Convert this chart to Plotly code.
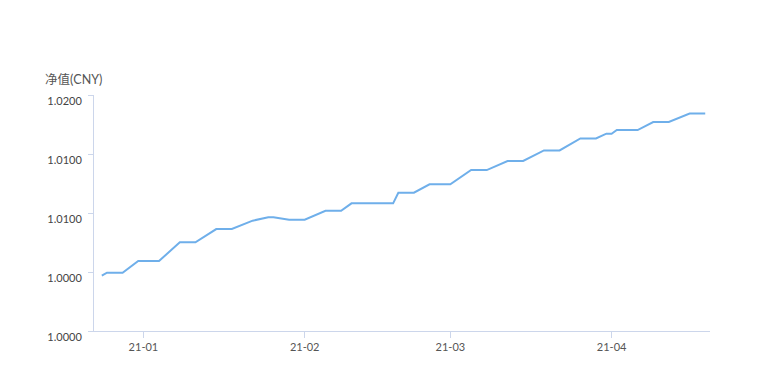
import plotly.graph_objects as go

dates = [
    "2020-12-24", "2020-12-25", "2020-12-28", "2020-12-31", "2021-01-04",
    "2021-01-08", "2021-01-11", "2021-01-15", "2021-01-18", "2021-01-22",
    "2021-01-25", "2021-01-26", "2021-01-29", "2021-02-01", "2021-02-05",
    "2021-02-08", "2021-02-10", "2021-02-18", "2021-02-19", "2021-02-22",
    "2021-02-25", "2021-03-01", "2021-03-05", "2021-03-08", "2021-03-12",
    "2021-03-15", "2021-03-19", "2021-03-22", "2021-03-26", "2021-03-29",
    "2021-03-31", "2021-04-01", "2021-04-02", "2021-04-06", "2021-04-09",
    "2021-04-12", "2021-04-16", "2021-04-19",
]
nav = [
    1.00469, 1.00494, 1.00494, 1.00593, 1.00593,
    1.00752, 1.00752, 1.00864, 1.00864, 1.00935,
    1.00963, 1.00963, 1.00943, 1.00943, 1.01019,
    1.01019, 1.01082, 1.01082, 1.01172, 1.01172,
    1.01243, 1.01243, 1.01364, 1.01364, 1.01441,
    1.01441, 1.01530, 1.01530, 1.01632, 1.01632,
    1.01672, 1.01672, 1.01703, 1.01703, 1.01771,
    1.01771, 1.01843, 1.01843,
]
y_tickvals = [1.0, 1.005, 1.01, 1.015, 1.02]
y_ticktext = ["1.0000", "1.0000", "1.0100", "1.0100", "1.0200"]
y_title = "净值(CNY)"

axis_color = "#ccd6eb"
font_family = "Lato, 'Noto Sans CJK SC', sans-serif"

fig = go.Figure()
fig.add_trace(go.Scatter(
    x=dates, y=nav, mode="lines",
    line=dict(color="#6fafea", width=2),
    hoverinfo="skip", showlegend=False,
))

fig.update_layout(
    width=760, height=374,
    margin=dict(l=94, r=50, t=95, b=43),
    paper_bgcolor="white", plot_bgcolor="white",
    font=dict(family=font_family, size=11, color="#555"),
    xaxis=dict(
        type="date",
        range=["2020-12-22 12:00", "2021-04-19 22:00"],
        tickformat="%y-%m", dtick="M1", tick0="2021-01-01",
        showgrid=False, zeroline=False,
        showline=True, linecolor=axis_color, linewidth=1,
        ticks="outside", ticklen=6, tickcolor=axis_color,
        tickfont=dict(size=11, color="#555"),
    ),
    yaxis=dict(
        range=[1.0, 1.02],
        tickvals=y_tickvals, ticktext=y_ticktext,
        showgrid=False, zeroline=False,
        showline=True, linecolor=axis_color, linewidth=1,
        ticks="outside", ticklen=5, tickcolor=axis_color,
        tickfont=dict(size=11, color="#444"),
        ticklabelshift=6, ticklabelstandoff=4,
    ),
    annotations=[dict(
        text=y_title, xref="paper", yref="paper",
        x=(43 - 94) / 616, y=(331 - 80) / 236,
        xanchor="left", yanchor="middle", showarrow=False,
        font=dict(size=12.5, color="#555", family=font_family),
    )],
)

fig.write_html("out.html")
